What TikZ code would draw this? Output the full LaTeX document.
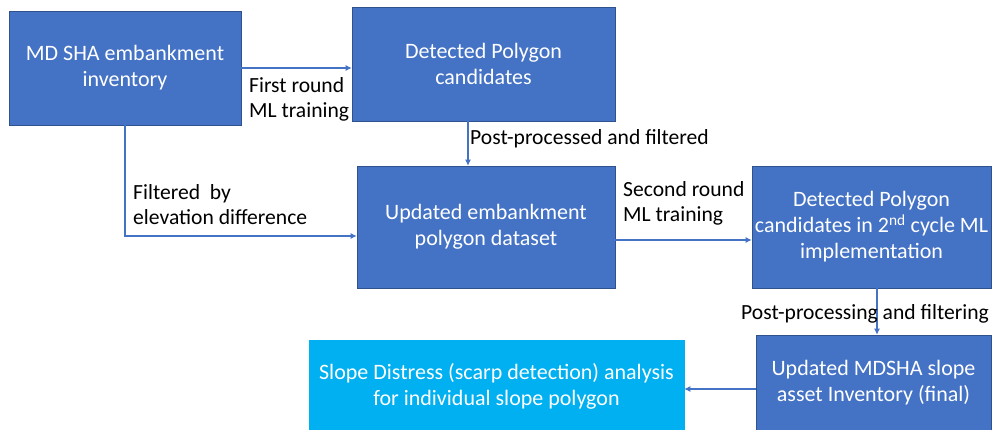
\documentclass[tikz,border=0pt]{standalone}
\usepackage{fontspec}
\setmainfont{Carlito}
\usetikzlibrary{arrows.meta}
\definecolor{boxblue}{HTML}{4472C4}
\definecolor{boxedge}{HTML}{2F528F}
\definecolor{boxcyan}{HTML}{00B0F0}

\begin{document}
\begin{tikzpicture}[x=1pt, y=-1pt,
    stage/.style={fill=boxblue, draw=boxedge, line width=0.6pt, text=white,
      align=center, inner sep=0pt, font=\fontsize{22}{26}\selectfont},
    flow/.style={draw=boxblue, line width=1.1pt, -{Latex[length=6pt,width=6pt]}},
    note/.style={anchor=base west, align=left, inner sep=0pt,
      font=\fontsize{21.6}{25}\selectfont}]
  \useasboundingbox (0,0) rectangle (992,430);

  % process boxes
  \node[stage, minimum width=232pt, minimum height=114pt] (inventory) at (125,68)
    {MD SHA embankment\\inventory};
  \node[stage, minimum width=263pt, minimum height=114pt] (cand) at (483.5,64)
    {Detected Polygon\\candidates};
  \node[stage, minimum width=258pt, minimum height=122pt] (dataset) at (486,227)
    {Updated embankment\\polygon dataset};
  \node[stage, minimum width=239pt, minimum height=122pt] (cand2) at (871.5,227)
    {Detected Polygon\\candidates in 2\textsuperscript{nd} cycle ML\\implementation};
  \node[stage, minimum width=235pt, minimum height=96pt] (final) at (873.5,383)
    {Updated MDSHA slope\\asset Inventory (final)};
  \node[stage, fill=boxcyan, draw=boxcyan, minimum width=375pt, minimum height=92pt]
    (distress) at (496.5,386)
    {Slope Distress (scarp detection) analysis\\for individual slope polygon};

  % arrow end points
  \coordinate (candout) at ([xshift=-15.5pt]cand.south);
  \coordinate (dataout) at ([yshift=-13pt]dataset.east);
  \coordinate (cand2out) at ([xshift=5.5pt]cand2.south);
  \coordinate (finalout) at ([yshift=-6pt]final.west);

  % connectors
  \draw[flow] (inventory.east) -- (cand.west |- inventory.east);
  \draw[flow] (candout) -- (candout |- dataset.north);
  \draw[flow] (inventory.south) |- ([yshift=-9pt]dataset.west);
  \draw[flow] (dataout) -- (cand2.west |- dataout);
  \draw[flow] (cand2out) -- (cand2out |- final.north);
  \draw[flow] (finalout) -- (distress.east |- finalout);

  % labels (base = last line)
  \node[note] (lbl1) at (249,118) {First round\\ML training};
  \node[note] (lbl2) at (470,145) {Post-processed and filtered};
  \node[note] (lbl3) at (133,225) {Filtered~ by\\elevation difference};
  \node[note] (lbl4) at (623,222) {Second round\\ML training};
  \node[note] (lbl5) at (741,319) {Post-processing and filtering};
\end{tikzpicture}
\end{document}
